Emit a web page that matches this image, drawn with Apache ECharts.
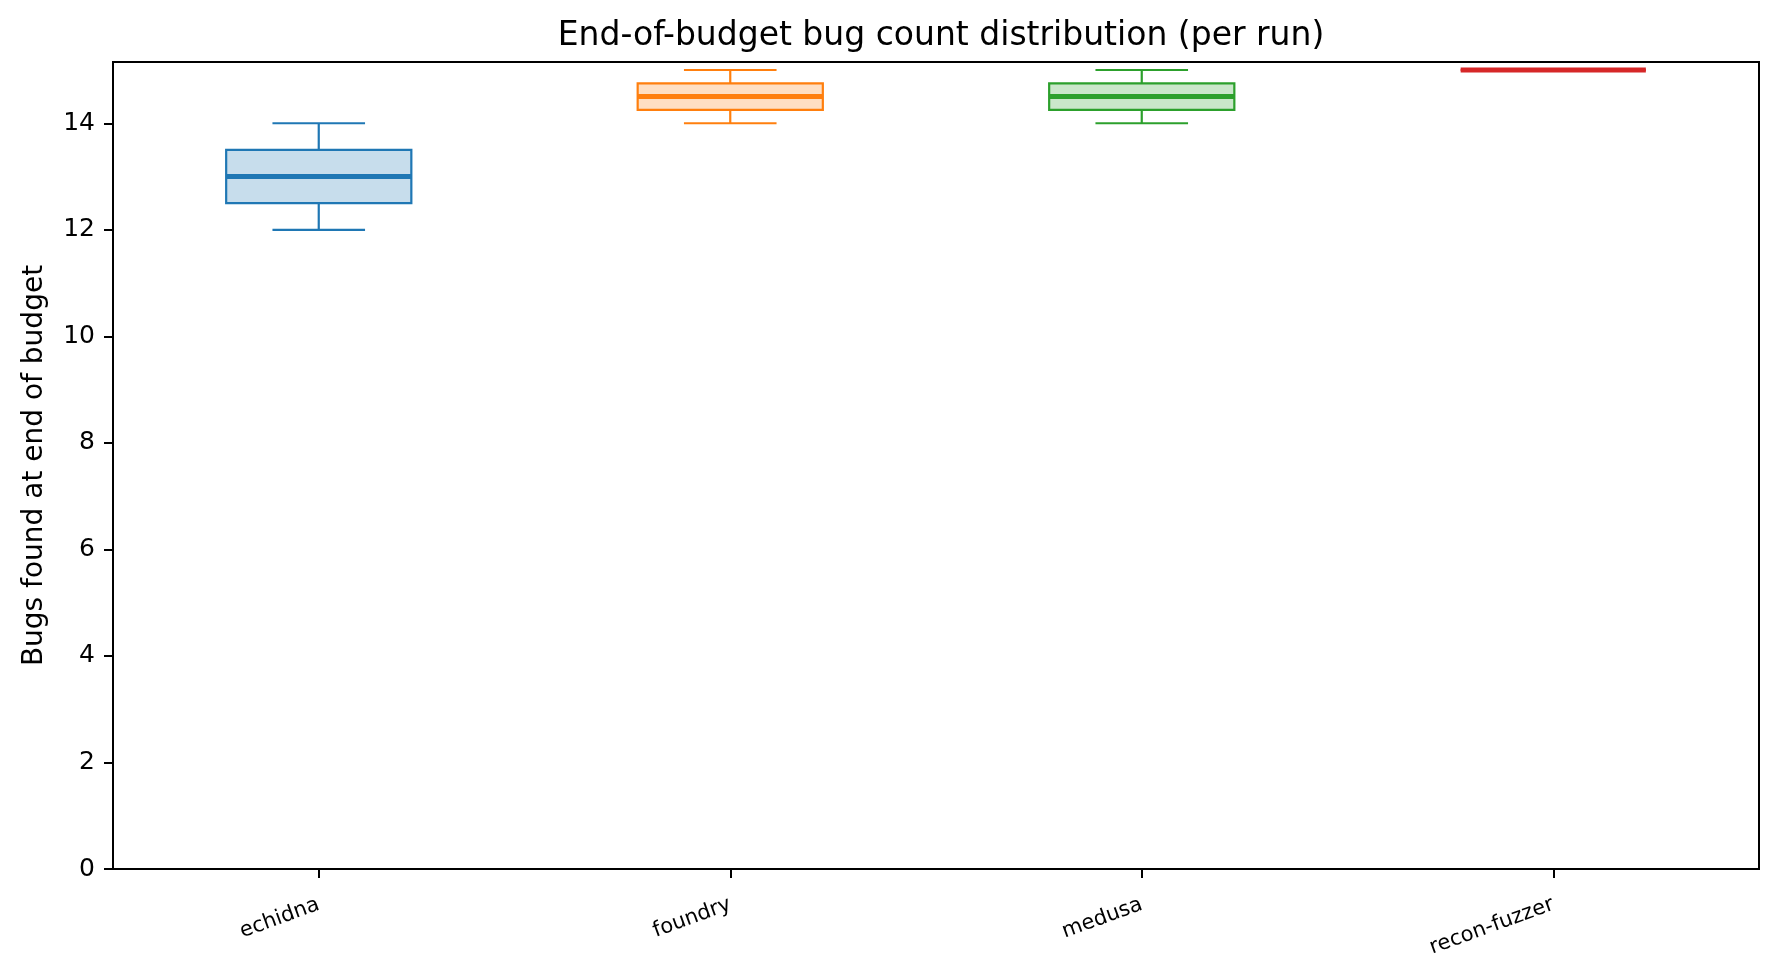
<!DOCTYPE html>
<html>
<head>
<meta charset="utf-8">
<script src="https://cdn.jsdelivr.net/npm/echarts@6/dist/echarts.min.js"></script>
<style>
html,body{margin:0;padding:0;background:#fff;}
#chart{width:1779px;height:977px;}
</style>
</head>
<body>
<div id="chart"></div>
<script>
const categories = ['echidna', 'foundry', 'medusa', 'recon-fuzzer'];
const whiskerLow = [12, 14, 14, 15];
const q1 = [12.5, 14.25, 14.25, 15];
const median = [13, 14.5, 14.5, 15];
const q3 = [13.5, 14.75, 14.75, 15];
const whiskerHigh = [14, 15, 15, 15];
const yTicks = [0, 2, 4, 6, 8, 10, 12, 14];
const colors = ['#1f77b4', '#ff7f0e', '#2ca02c', '#d62728'];
const fills = ['rgba(31,119,180,0.25)', 'rgba(255,127,14,0.25)', 'rgba(44,160,44,0.25)', 'rgba(214,39,40,0.25)'];

const data = categories.map((c, i) => [i, whiskerLow[i], q1[i], median[i], q3[i], whiskerHigh[i]]);

const chart = echarts.init(document.getElementById('chart'), null, {renderer: 'canvas'});

function renderItem(params, api) {
  const idx = api.value(0);
  const bw = api.size([1, 0])[0];
  const boxW = bw * 0.45;
  const capW = boxW / 2;
  const pLow = api.coord([idx, api.value(1)]);
  const pQ1 = api.coord([idx, api.value(2)]);
  const pMed = api.coord([idx, api.value(3)]);
  const pQ3 = api.coord([idx, api.value(4)]);
  const pHigh = api.coord([idx, api.value(5)]);
  const x = pMed[0];
  const col = colors[idx];
  const lw = 2.2;
  const ls = {stroke: col, lineWidth: lw};
  return {
    type: 'group',
    children: [
      {type: 'line', shape: {x1: x, y1: pLow[1], x2: x, y2: pQ1[1]}, style: ls},
      {type: 'line', shape: {x1: x, y1: pQ3[1], x2: x, y2: pHigh[1]}, style: ls},
      {type: 'line', shape: {x1: x - capW / 2, y1: pLow[1], x2: x + capW / 2, y2: pLow[1]}, style: ls},
      {type: 'line', shape: {x1: x - capW / 2, y1: pHigh[1], x2: x + capW / 2, y2: pHigh[1]}, style: ls},
      {type: 'rect', shape: {x: x - boxW / 2, y: pQ3[1], width: boxW, height: pQ1[1] - pQ3[1]},
        style: {fill: fills[idx], stroke: col, lineWidth: lw}},
      {type: 'line', shape: {x1: x - boxW / 2, y1: pMed[1], x2: x + boxW / 2, y2: pMed[1]},
        style: {stroke: col, lineWidth: 5}}
    ]
  };
}

chart.setOption({
  animation: false,
  backgroundColor: '#fff',
  title: {
    text: 'End-of-budget bug count distribution (per run)',
    left: 936,
    textAlign: 'center',
    top: 15,
    textStyle: {fontFamily: 'DejaVu Sans', fontSize: 33, fontWeight: 'normal', color: '#000'}
  },
  grid: {
    left: 113, right: 20, top: 62, bottom: 108,
    show: true, borderColor: '#000', borderWidth: 2, backgroundColor: 'transparent'
  },
  xAxis: {
    type: 'category',
    data: categories,
    boundaryGap: true,
    axisLine: {show: true, lineStyle: {color: '#000', width: 2}},
    axisTick: {show: true, alignWithLabel: true, length: 9, lineStyle: {color: '#000', width: 2}},
    axisLabel: {rotate: 20, fontSize: 21, color: '#000', fontFamily: 'DejaVu Sans', margin: 35},
    splitLine: {show: false}
  },
  yAxis: {
    type: 'value',
    min: 0,
    max: 15.15,
    name: 'Bugs found at end of budget',
    nameLocation: 'middle',
    nameRotate: 90,
    nameGap: 64,
    nameTextStyle: {fontFamily: 'DejaVu Sans', fontSize: 28, color: '#000'},
    axisLine: {show: true, lineStyle: {color: '#000', width: 2}},
    axisTick: {show: true, length: 9, lineStyle: {color: '#000', width: 2}, customValues: yTicks},
    axisLabel: {fontSize: 25, color: '#000', fontFamily: 'DejaVu Sans', margin: 18, customValues: yTicks},
    splitLine: {show: false}
  },
  series: [{
    type: 'custom',
    renderItem: renderItem,
    encode: {x: 0, y: [1, 2, 3, 4, 5]},
    data: data,
    clip: false
  }]
});
</script>
</body>
</html>
